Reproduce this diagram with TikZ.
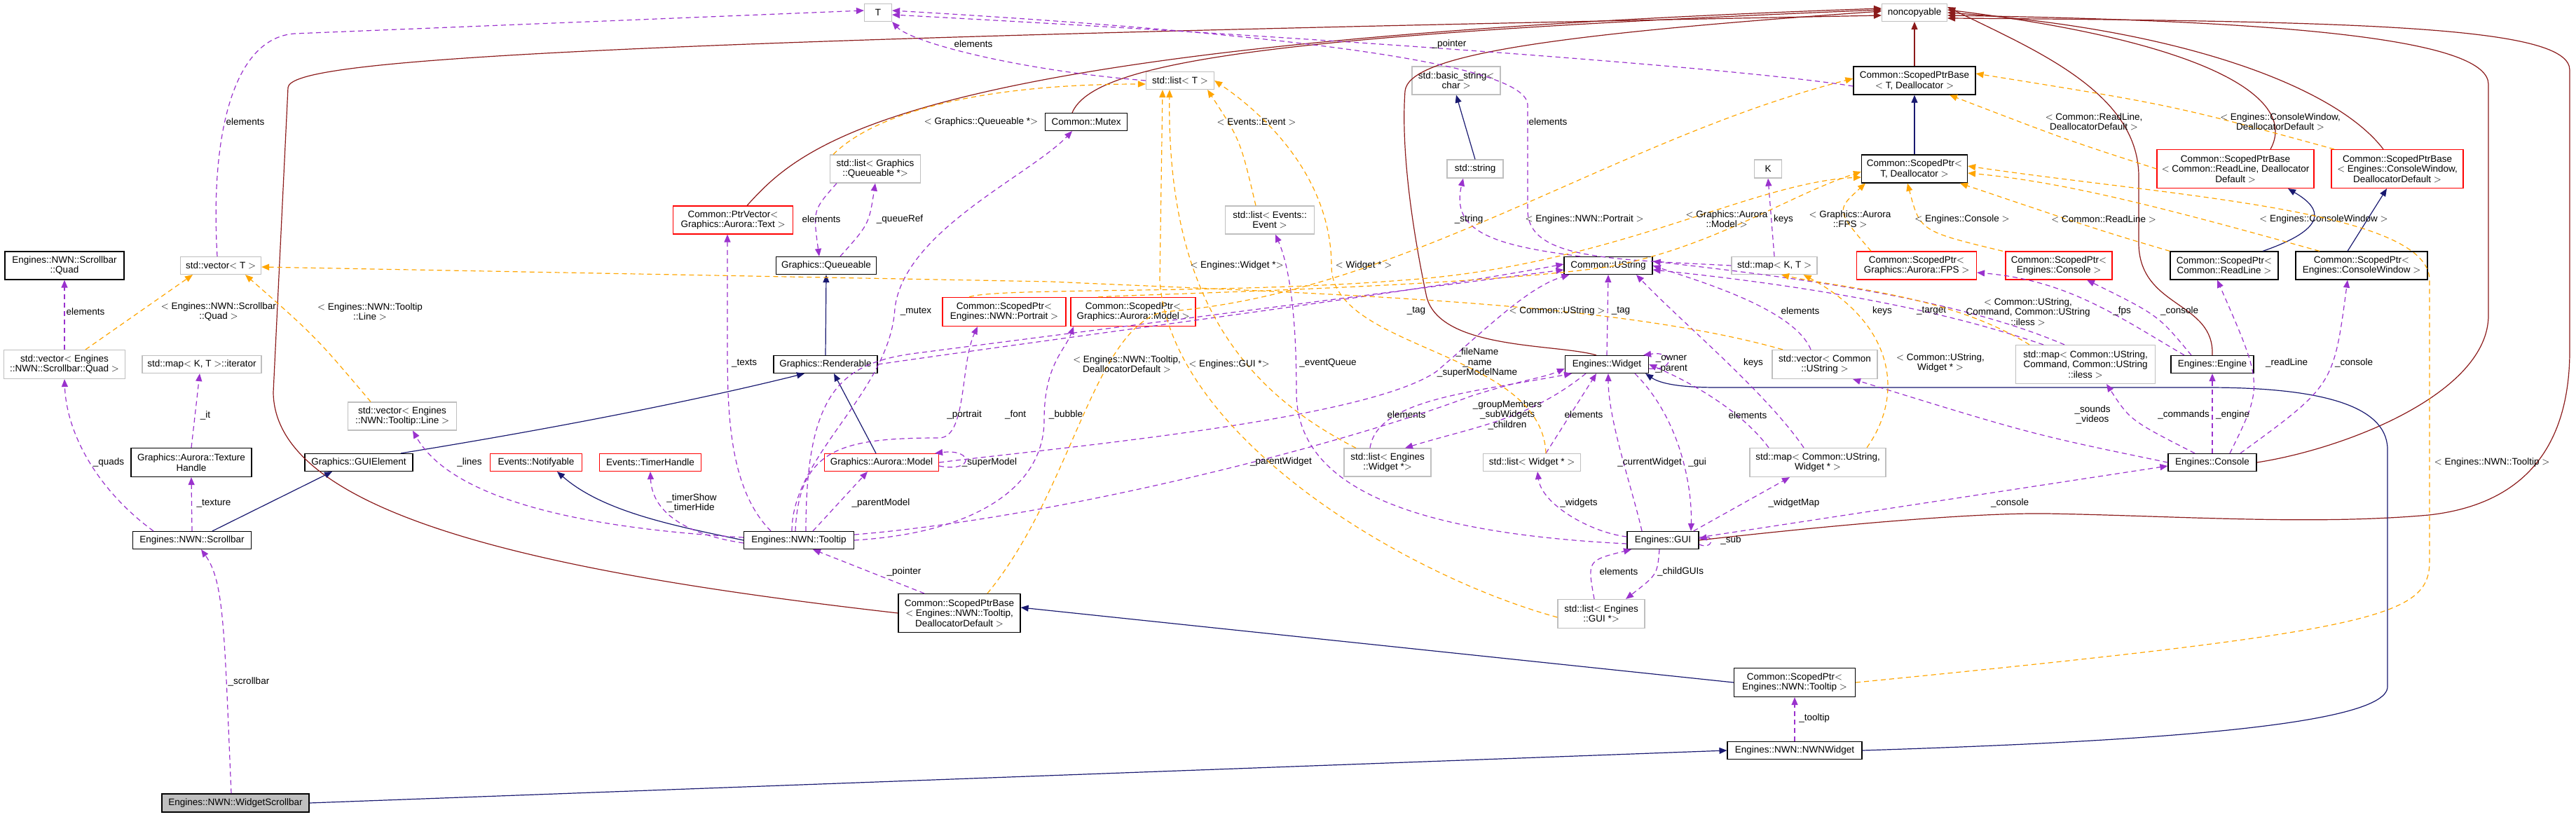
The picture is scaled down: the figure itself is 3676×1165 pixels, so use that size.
\documentclass[tikz,border=0pt]{standalone}
\usepackage{fontspec}
\setmainfont{Liberation Sans}
\usetikzlibrary{arrows.meta}
\definecolor{navyc}{RGB}{25,25,112}
\definecolor{darkredc}{RGB}{139,26,26}
\definecolor{purplec}{RGB}{154,50,205}
\definecolor{orangec}{RGB}{255,165,0}
\definecolor{grayc}{RGB}{191,191,191}
\definecolor{redc}{RGB}{255,0,0}
\definecolor{fillgray}{RGB}{191,191,191}
\newcommand\nf{\fontsize{13.5}{14.5}\selectfont}
\tikzset{
 cls/.style={draw=black, line width=1.2pt, fill=white, inner sep=1pt, align=center, font=\nf},
 graybox/.style={cls, draw=grayc},
 redbox/.style={cls, draw=redc},
 lbl/.style={font=\nf, align=center, inner sep=0pt},
 tip/.style={-{Triangle[length=11pt,width=9pt]}},
 inh/.style={draw=navyc, line width=1.2pt, tip, navyc},
 priv/.style={draw=darkredc, line width=1.2pt, tip, darkredc},
 use/.style={draw=purplec, line width=1.2pt, dash pattern=on 7pt off 5pt, tip, purplec},
 tmpl/.style={draw=orangec, line width=1.2pt, dash pattern=on 7pt off 5pt, tip, orangec},
}
\begin{document}
\begin{tikzpicture}[x=1pt,y=-1pt]
\useasboundingbox (0,0) rectangle (3676,1165);
% nodes
\node[graybox,minimum width=39,minimum height=25] (tT) at (1253,18) {T};
\node[graybox,minimum width=93,minimum height=25] (nc) at (2732,18) {noncopyable};
\node[graybox,minimum width=115,minimum height=25] (vecT) at (315,379) {std::vector$<$ T $>$};
\node[cls,minimum width=170,minimum height=40] (quad) at (92,379) {Engines::NWN::Scrollbar\\::Quad};
\node[graybox,minimum width=173,minimum height=41] (vecQ) at (92,520) {std::vector$<$ Engines\\::NWN::Scrollbar::Quad $>$};
\node[graybox,minimum width=170,minimum height=25] (iter) at (288,520) {std::map$<$ K, T $>$::iterator};
\node[redbox,minimum width=171,minimum height=40] (pv) at (1046,314) {Common::PtrVector$<$\\ Graphics::Aurora::Text $>$};
\node[cls,minimum width=143,minimum height=25] (queue) at (1179,379) {Graphics::Queueable};
\node[cls,minimum width=148,minimum height=25] (rend) at (1178,520) {Graphics::Renderable};
\node[graybox,minimum width=129,minimum height=40] (listQ) at (1249,241) {std::list$<$ Graphics\\::Queueable *$>$};
\node[graybox,minimum width=155,minimum height=40] (vecL) at (574,594) {std::vector$<$ Engines\\::NWN::Tooltip::Line $>$};
\node[cls,minimum width=172,minimum height=41] (tex) at (273,660) {Graphics::Aurora::Texture\\Handle};
\node[cls,minimum width=154,minimum height=25] (guiel) at (512,660) {Graphics::GUIElement};
\node[redbox,minimum width=131,minimum height=25] (notif) at (765,660) {Events::Notifyable};
\node[redbox,minimum width=145,minimum height=25] (timer) at (928,660) {Events::TimerHandle};
\node[cls,minimum width=169,minimum height=25] (scroll) at (274,771) {Engines::NWN::Scrollbar};
\node[cls,minimum width=157,minimum height=25] (tooltip) at (1140,771) {Engines::NWN::Tooltip};
\node[cls,fill=fillgray,minimum width=210,minimum height=26] (wsb) at (336,1146) {Engines::NWN::WidgetScrollbar};
\node[redbox,minimum width=163,minimum height=25] (model) at (1258,660) {Graphics::Aurora::Model};
\node[cls,minimum width=174,minimum height=55] (spbt) at (1369,875) {Common::ScopedPtrBase\\$<$ Engines::NWN::Tooltip,\\ DeallocatorDefault $>$};
\node[cls,minimum width=117,minimum height=25] (mutex) at (1550,174) {Common::Mutex};
\node[graybox,minimum width=97,minimum height=25] (listT) at (1684,115) {std::list$<$ T $>$};
\node[graybox,minimum width=127,minimum height=40] (listEv) at (1812,314) {std::list$<$ Events::\\Event $>$};
\node[graybox,minimum width=126,minimum height=40] (bstr) at (2078,115) {std::basic\_string$<$\\ char $>$};
\node[graybox,minimum width=80,minimum height=26] (str) at (2105,241) {std::string};
\node[redbox,minimum width=176,minimum height=41] (spPor) at (1433,445) {Common::ScopedPtr$<$\\ Engines::NWN::Portrait $>$};
\node[redbox,minimum width=178,minimum height=41] (spMod) at (1617,445) {Common::ScopedPtr$<$\\ Graphics::Aurora::Model $>$};
\node[cls,minimum width=126,minimum height=25] (ustr) at (2295,379) {Common::UString};
\node[cls,minimum width=119,minimum height=25] (widget) at (2293,520) {Engines::Widget};
\node[graybox,minimum width=124,minimum height=40] (listEW) at (1980,660) {std::list$<$ Engines\\::Widget *$>$};
\node[graybox,minimum width=139,minimum height=25] (listW) at (2186,660) {std::list$<$ Widget * $>$};
\node[cls,minimum width=102,minimum height=25] (gui) at (2373,771) {Engines::GUI};
\node[graybox,minimum width=124,minimum height=41] (listG) at (2285,876) {std::list$<$ Engines\\::GUI *$>$};
\node[cls,minimum width=174,minimum height=40] (spbT) at (2732,115) {Common::ScopedPtrBase\\$<$ T, Deallocator $>$};
\node[cls,minimum width=151,minimum height=40] (spT) at (2732,241) {Common::ScopedPtr$<$\\ T, Deallocator $>$};
\node[graybox,minimum width=39,minimum height=26] (kK) at (2523,241) {K};
\node[graybox,minimum width=122,minimum height=25] (mapKT) at (2532,379) {std::map$<$ K, T $>$};
\node[redbox,minimum width=171,minimum height=40] (spFPS) at (2735,379) {Common::ScopedPtr$<$\\ Graphics::Aurora::FPS $>$};
\node[redbox,minimum width=152,minimum height=40] (spCon) at (2938,379) {Common::ScopedPtr$<$\\ Engines::Console $>$};
\node[cls,minimum width=154,minimum height=40] (sprl) at (3174,379) {Common::ScopedPtr$<$\\ Common::ReadLine $>$};
\node[cls,minimum width=188,minimum height=40] (spcw) at (3370,379) {Common::ScopedPtr$<$\\ Engines::ConsoleWindow $>$};
\node[redbox,minimum width=224,minimum height=55] (spbr) at (3190,241) {Common::ScopedPtrBase\\$<$ Common::ReadLine, Deallocator\\ Default $>$};
\node[redbox,minimum width=188,minimum height=55] (spbcw) at (3421,241) {Common::ScopedPtrBase\\$<$ Engines::ConsoleWindow,\\ DeallocatorDefault $>$};
\node[graybox,minimum width=150,minimum height=41] (vecU) at (2604,520) {std::vector$<$ Common\\::UString $>$};
\node[graybox,minimum width=199,minimum height=55] (mapCmd) at (2976,520) {std::map$<$ Common::UString,\\ Command, Common::UString\\ ::iless $>$};
\node[cls,minimum width=118,minimum height=25] (engine) at (3157,520) {Engines::Engine};
\node[graybox,minimum width=194,minimum height=41] (mapUW) at (2594,660) {std::map$<$ Common::UString,\\ Widget * $>$};
\node[cls,minimum width=126,minimum height=25] (console) at (3157,660) {Engines::Console};
\node[cls,minimum width=173,minimum height=41] (spTip) at (2561,974) {Common::ScopedPtr$<$\\ Engines::NWN::Tooltip $>$};
\node[cls,minimum width=192,minimum height=25] (nwnw) at (2561,1071) {Engines::NWN::NWNWidget};

% private inheritance (noncopyable)
\draw[priv] ([xshift=20]pv.north) .. controls (1150,200) and (1300,60) .. ([yshift=6]nc.west);
\draw[priv] ([xshift=-20]mutex.north) .. controls (1560,90) and (1800,50) .. ([yshift=4]nc.west);
\draw[priv] (spbt.west) .. controls (800,820) and (392,740) .. (390,560) -- (411,125) .. controls (415,90) and (700,60) .. ([yshift=-4]nc.west);
\draw[priv] ([xshift=-15]widget.north) .. controls (2220,490) and (2050,500) .. (2035,420) .. controls (2010,300) and (2000,200) .. (2005,130) .. controls (2010,80) and (2200,50) .. ([yshift=2]nc.west);
\draw[priv] (spbT.north) -- (nc.south);
\draw[priv] (engine.north) .. controls (3160,430) and (3055,440) .. (3052,350) -- (3052,250) .. controls (3050,130) and (2900,70) .. ([yshift=8]nc.east);
\draw[priv] ([xshift=50]spbr.north) .. controls (3280,140) and (3150,60) .. ([yshift=4]nc.east);
\draw[priv] ([xshift=-20]spbcw.north) .. controls (3330,120) and (3100,40) .. ([yshift=0]nc.east);
\draw[priv] (console.east) .. controls (3350,640) and (3551,560) .. (3551,450) -- (3551,120) .. controls (3550,60) and (3300,30) .. ([yshift=-4]nc.east);
\draw[priv] (gui.east) .. controls (2700,740) and (2850,732) .. (2921,733) .. controls (3100,736) and (3300,750) .. (3466,735) .. controls (3600,720) and (3667,640) .. (3667,500) -- (3667,100) .. controls (3667,40) and (3400,30) .. ([yshift=-8]nc.east);

% public inheritance
\draw[inh] (str.north) -- (bstr.south);
\draw[inh] (spT.north) -- (spbT.south);
\draw[inh] ([xshift=55]sprl.north) .. controls (3340,320) and (3300,290) .. ([xshift=75]spbr.south);
\draw[inh] ([xshift=-20]spcw.north) -- ([xshift=-15]spbcw.south);
\draw[inh] (rend.north) -- (queue.south);
\draw[inh] ([xshift=60]guiel.north) .. controls (800,610) and (1000,570) .. ([xshift=-30]rend.south);
\draw[inh] ([xshift=29]scroll.north) -- ([xshift=-38]guiel.south);
\draw[inh] ([xshift=-8]model.north) -- ([xshift=12]rend.south);
\draw[inh] (tooltip.west) .. controls (960,750) and (860,730) .. ([xshift=30]notif.south);
\draw[inh] (spTip.west) -- ([yshift=8]spbt.east);
\draw[inh] (nwnw.east) .. controls (3000,1060) and (3407,1040) .. (3407,980) -- (3407,640) .. controls (3405,575) and (3300,553) .. (3150,553) -- (2450,553) .. controls (2400,553) and (2370,548) .. ([xshift=-5]widget.south east);
\draw[inh] (wsb.east) -- (nwnw.west);

% usage
\draw[use] ([xshift=-5]vecT.north) .. controls (300,200) and (330,55) .. (420,48) -- ([yshift=3]tT.west);
\node[lbl] (l1) at (350,174) {elements};
\draw[use] (listT.west) .. controls (1450,100) and (1300,60) .. (tT.south east);
\node[lbl] (l2) at (1389,63) {elements};
\draw[use] ([yshift=-8]spbT.west) .. controls (2500,100) and (2000,60) .. ([yshift=-3]tT.east);
\node[lbl] (l3) at (2068,63) {\_pointer};
\draw[use] (mapKT.west) .. controls (2300,370) and (2180,370) .. (2180,300) -- (2180,150) .. controls (2180,80) and (1700,40) .. ([yshift=3]tT.east);
\node[lbl] (l4) at (2209,174) {elements};
\draw[use] (mapKT.north) -- (kK.south);
\node[lbl] (l5) at (2545,313) {keys};
\draw[use] (vecQ.north) -- (quad.south);
\node[lbl] (l6) at (122,445) {elements};
\draw[use] ([xshift=-55]scroll.north) .. controls (140,700) and (95,620) .. (vecQ.south);
\node[lbl] (l7) at (155,660) {\_quads};
\draw[use] (tex.north) -- ([xshift=-3]iter.south);
\node[lbl] (l8) at (293,593) {\_it};
\draw[use] ([xshift=0]scroll.north) -- (tex.south);
\node[lbl] (l9) at (305,718) {\_texture};
\draw[use] ([xshift=-6]wsb.north) .. controls (320,900) and (320,830) .. ([xshift=13]scroll.south);
\node[lbl] (l10) at (355,973) {\_scrollbar};
\draw[use] ([xshift=-55]listQ.south) .. controls (1160,300) .. ([xshift=-10]queue.north);
\node[lbl] (l11) at (1172,313) {elements};
\draw[use] ([xshift=20]queue.north) .. controls (1240,320) .. (listQ.south);
\node[lbl] (l12) at (1284,313) {\_queueRef};
\draw[use] ([xshift=-40]tooltip.north) .. controls (1043,700) and (1038,600) .. (1038,500) -- ([xshift=-8]pv.south);
\node[lbl] (l13) at (1062,518) {\_texts};
\draw[use] ([xshift=-10]tooltip.north) .. controls (1130,650) and (1270,560) .. (1277,440) .. controls (1290,330) and (1470,250) .. ([xshift=-20]mutex.south);
\node[lbl] (l14) at (1307,444) {\_mutex};
\draw[use] ([yshift=4]tooltip.west) .. controls (950,760) and (660,740) .. ([xshift=15]vecL.south);
\node[lbl] (l15) at (670,660) {\_lines};
\draw[use] ([yshift=-4]tooltip.west) .. controls (960,760) and (930,720) .. (timer.south);
\node[lbl] (l16) at (987,718) {\_timerShow\\\_timerHide};
\draw[use] ([xshift=20]tooltip.north) -- ([xshift=-20]model.south);
\node[lbl] (l17) at (1257,718) {\_parentModel};
\draw[use] ([yshift=-5]model.east) .. controls (1390,675) and (1390,640) .. ([xshift=-6]model.north east);
\node[lbl] (l18) at (1412,660) {\_superModel};
\draw[use] ([xshift=-5]tooltip.north) .. controls (1140,640) and (1200,625) .. (1340,625) .. controls (1380,625) and (1370,520) .. ([xshift=-38]spPor.south);
\node[lbl] (l19) at (1376,592) {\_portrait};
\draw[use] ([xshift=10]tooltip.north) .. controls (1150,560) and (1200,520) .. (1300,505) -- ([yshift=-6]ustr.west);
\node[lbl] (l20) at (1449,592) {\_font};
\draw[use] (tooltip.east) .. controls (1400,760) and (1490,690) .. (1490,600) .. controls (1490,520) and (1520,500) .. ([xshift=-85]spMod.south);
\node[lbl] (l21) at (1521,592) {\_bubble};
\draw[use] ([xshift=-50]spbt.north) -- ([xshift=20]tooltip.south);
\node[lbl] (l22) at (1290,816) {\_pointer};
\draw[use] (widget.north) -- (ustr.south);
\node[lbl] (l23) at (2313,444) {\_tag};
\draw[use] (rend.east) .. controls (1600,470) and (2000,420) .. ([yshift=2]ustr.west);
\node[lbl] (l24) at (2021,444) {\_tag};
\draw[use] (model.east) .. controls (1500,640) and (1950,600) .. (2050,530) .. controls (2120,470) and (2180,410) .. ([xshift=8]ustr.south west);
\node[lbl] (l25) at (2108,518) {\_fileName\\\_name\\\_superModelName};
\draw[use] ([xshift=-40]ustr.north) .. controls (2130,350) and (2070,330) .. ([xshift=-17]str.south);
\node[lbl] (l26) at (2096,313) {\_string};
\draw[use] ([xshift=-30]widget.south) .. controls (2180,600) and (2100,610) .. ([xshift=25]listEW.north);
\node[lbl] (l27) at (2151,592) {\_groupMembers\\\_subWidgets\\\_children};
\draw[use] ([xshift=-25]listEW.north) .. controls (1965,570) and (2100,560) .. ([xshift=-50]widget.south);
\node[lbl] (l28) at (2007,592) {elements};
\draw[use] ([xshift=20]listW.north) -- ([xshift=-15]widget.south);
\node[lbl] (l29) at (2260,592) {elements};
\draw[use] ([yshift=-6]widget.east) .. controls (2390,530) and (2390,500) .. ([xshift=-8]widget.north east);
\node[lbl] (l30) at (2385,520) {\_owner\\\_parent};
\draw[use] ([xshift=-30]gui.north) .. controls (2330,700) and (2295,600) .. ([xshift=2]widget.south);
\node[lbl] (l31) at (2354,660) {\_currentWidget};
\draw[use] ([xshift=40]widget.south) .. controls (2400,600) and (2415,700) .. ([xshift=40]gui.north);
\node[lbl] (l32) at (2422,660) {\_gui};
\draw[use] ([yshift=5]gui.west) .. controls (2270,760) and (2200,720) .. ([xshift=8]listW.south);
\node[lbl] (l33) at (2253,718) {\_widgets};
\draw[use] ([xshift=-8]gui.north east) -- ([xshift=-40]mapUW.south);
\node[lbl] (l34) at (2560,718) {\_widgetMap};
\draw[use] ([yshift=4]gui.east) -- ([yshift=-5]console.west);
\node[lbl] (l35) at (2868,718) {\_console};
\draw[use] ([yshift=-6]gui.east) .. controls (2445,785) and (2445,765) .. ([yshift=2]gui.east);
\node[lbl] (l36) at (2470,771) {\_sub};
\draw[use] ([xshift=-10]listG.north) .. controls (2265,800) .. ([xshift=-45]gui.south);
\node[lbl] (l37) at (2310,816) {elements};
\draw[use] ([xshift=-5]gui.south) .. controls (2365,820) .. ([xshift=35]listG.north);
\node[lbl] (l38) at (2398,816) {\_childGUIs};
\draw[use] ([yshift=-5]gui.west) .. controls (2000,760) and (1850,690) .. (1850,560) .. controls (1850,450) and (1840,380) .. ([xshift=8]listEv.south);
\node[lbl] (l39) at (1895,518) {\_eventQueue};
\draw[use] ([yshift=8]tooltip.east) .. controls (1500,740) and (1900,640) .. (2100,565) .. controls (2180,540) and (2200,540) .. ([yshift=-6]widget.west);
\node[lbl] (l40) at (1828,659) {\_parentWidget};
\draw[use] ([xshift=-20]mapUW.north) .. controls (2520,560) and (2400,460) .. ([xshift=40]ustr.south);
\node[lbl] (l41) at (2502,518) {keys};
\draw[use] ([xshift=-70]mapUW.north) .. controls (2480,580) and (2400,540) .. (widget.east);
\node[lbl] (l42) at (2494,593) {elements};
\draw[use] ([xshift=-20]vecU.north) .. controls (2560,440) and (2420,400) .. (ustr.east);
\node[lbl] (l43) at (2569,444) {elements};
\draw[use] ([xshift=-60]mapCmd.north) .. controls (2850,470) and (2700,420) .. ([yshift=-6]ustr.east);
\node[lbl] (l44) at (2686,444) {keys};
\draw[use] ([xshift=-30]mapCmd.north) .. controls (2800,430) and (2600,400) .. ([yshift=6]ustr.east);
\node[lbl] (l45) at (2756,444) {\_target};
\draw[use] ([xshift=-40]engine.north) .. controls (3020,450) and (2950,400) .. ([yshift=-10]spFPS.east);
\node[lbl] (l46) at (3028,444) {\_fps};
\draw[use] ([xshift=-30]engine.north) .. controls (3080,450) .. ([xshift=40]spCon.south);
\node[lbl] (l47) at (3110,444) {\_console};
\draw[use] ([xshift=25]console.north) .. controls (3230,550) .. ([xshift=-10]sprl.south);
\node[lbl] (l48) at (3263,518) {\_readLine};
\draw[use] ([xshift=40]console.north) .. controls (3330,550) .. ([xshift=-20]spcw.south);
\node[lbl] (l49) at (3359,518) {\_console};
\draw[use] (console.north) -- (engine.south);
\node[lbl] (l50) at (3186,592) {\_engine};
\draw[use] ([xshift=-25]console.north) .. controls (3040,600) .. ([xshift=30]mapCmd.south);
\node[lbl] (l51) at (3116,592) {\_commands};
\draw[use] (console.west) .. controls (2900,620) .. ([xshift=40]vecU.south);
\node[lbl] (l52) at (2986,592) {\_sounds\\\_videos};
\draw[use] (nwnw.north) -- (spTip.south);
\node[lbl] (l53) at (2589,1025) {\_tooltip};

% template instances
\draw[tmpl] ([xshift=30]vecQ.north) -- ([xshift=-40]vecT.south);
\node[lbl] (t1) at (312,445) {$<$ Engines::NWN::Scrollbar\\::Quad $>$};
\draw[tmpl] ([xshift=-45]vecL.north) .. controls (450,480) .. ([xshift=35]vecT.south);
\node[lbl] (t2) at (528,445) {$<$ Engines::NWN::Tooltip\\::Line $>$};
\draw[tmpl] ([xshift=-60]listQ.north) .. controls (1250,160) and (1400,120) .. ([yshift=-5]listT.west);
\node[lbl] (t3) at (1400,174) {$<$ Graphics::Queueable *$>$};
\draw[tmpl] ([xshift=-20]listEv.north) .. controls (1770,200) .. ([xshift=-10]listT.south east);
\node[lbl] (t4) at (1793,174) {$<$ Events::Event $>$};
\draw[tmpl] ([xshift=-45]listEW.north) .. controls (1780,560) and (1665,430) .. ([xshift=-15]listT.south);
\node[lbl] (t5) at (1765,379) {$<$ Engines::Widget *$>$};
\draw[tmpl] ([xshift=20]listW.north) .. controls (2200,500) and (1900,500) .. (1900,380) .. controls (1900,250) and (1800,160) .. (listT.east);
\node[lbl] (t6) at (1946,379) {$<$ Widget * $>$};
\draw[tmpl] ([yshift=-5]listG.west) .. controls (2000,820) and (1670,620) .. (1655,400) -- ([xshift=-25]listT.south);
\node[lbl] (t7) at (1754,520) {$<$ Engines::GUI *$>$};
\draw[tmpl] ([xshift=40]spbt.north) .. controls (1530,700) and (1560,470) .. (1660,445) .. controls (2000,420) and (2300,200) .. ([yshift=3]spbT.west);
\node[lbl] (t8) at (1608,520) {$<$ Engines::NWN::Tooltip,\\ DeallocatorDefault $>$};
\draw[tmpl] ([xshift=-50]spPor.north) .. controls (1420,410) and (1750,420) .. (2000,400) .. controls (2300,380) and (2500,260) .. ([yshift=-12]spT.west);
\node[lbl] (t9) at (2261,313) {$<$ Engines::NWN::Portrait $>$};
\draw[tmpl] ([xshift=-50]spMod.north) .. controls (1620,420) and (2100,410) .. (2300,380) .. controls (2450,350) and (2550,280) .. ([yshift=-4]spT.west);
\node[lbl] (t10) at (2464,313) {$<$ Graphics::Aurora\\::Model $>$};
\draw[tmpl] ([xshift=-65]spFPS.north) .. controls (2620,300) .. ([xshift=-70]spT.south);
\node[lbl] (t11) at (2640,313) {$<$ Graphics::Aurora\\::FPS $>$};
\draw[tmpl] ([xshift=-80]spCon.north) .. controls (2740,330) .. ([xshift=-10]spT.south);
\node[lbl] (t12) at (2800,313) {$<$ Engines::Console $>$};
\draw[tmpl] (sprl.north west) .. controls (3000,330) .. ([xshift=65]spT.south);
\node[lbl] (t13) at (3002,313) {$<$ Common::ReadLine $>$};
\draw[tmpl] ([xshift=-60]spcw.north) .. controls (3100,300) and (2950,260) .. ([yshift=-6]spT.east);
\node[lbl] (t14) at (3316,313) {$<$ Engines::ConsoleWindow $>$};
\draw[tmpl] (spbr.west) .. controls (2950,200) .. ([xshift=50]spbT.south);
\node[lbl] (t15) at (2988,174) {$<$ Common::ReadLine,\\ DeallocatorDefault $>$};
\draw[tmpl] ([xshift=-90]spbcw.north) .. controls (3100,150) .. ([yshift=10]spbT.east);
\node[lbl] (t16) at (3254,174) {$<$ Engines::ConsoleWindow,\\ DeallocatorDefault $>$};
\draw[tmpl] (spTip.east) .. controls (3400,900) and (3467,880) .. (3467,800) -- (3467,400) .. controls (3467,300) and (3100,280) .. ([yshift=4]spT.east);
\node[lbl] (t17) at (3556,660) {$<$ Engines::NWN::Tooltip $>$};
\draw[tmpl] ([xshift=70]mapUW.north) .. controls (2720,560) and (2700,460) .. ([xshift=-20]mapKT.south east);
\node[lbl] (t18) at (2769,518) {$<$ Common::UString,\\ Widget * $>$};
\draw[tmpl] ([xshift=-80]mapCmd.north) .. controls (2780,420) and (2620,410) .. ([xshift=10]mapKT.south);
\node[lbl] (t19) at (2894,445) {$<$ Common::UString,\\ Command, Common::UString\\ ::iless $>$};
\draw[tmpl] ([xshift=-60]vecU.north) .. controls (2300,430) and (1900,420) .. (1500,402) -- ([yshift=-2]vecT.east);
\node[lbl] (t20) at (2222,444) {$<$ Common::UString $>$};
\end{tikzpicture}
\end{document}
